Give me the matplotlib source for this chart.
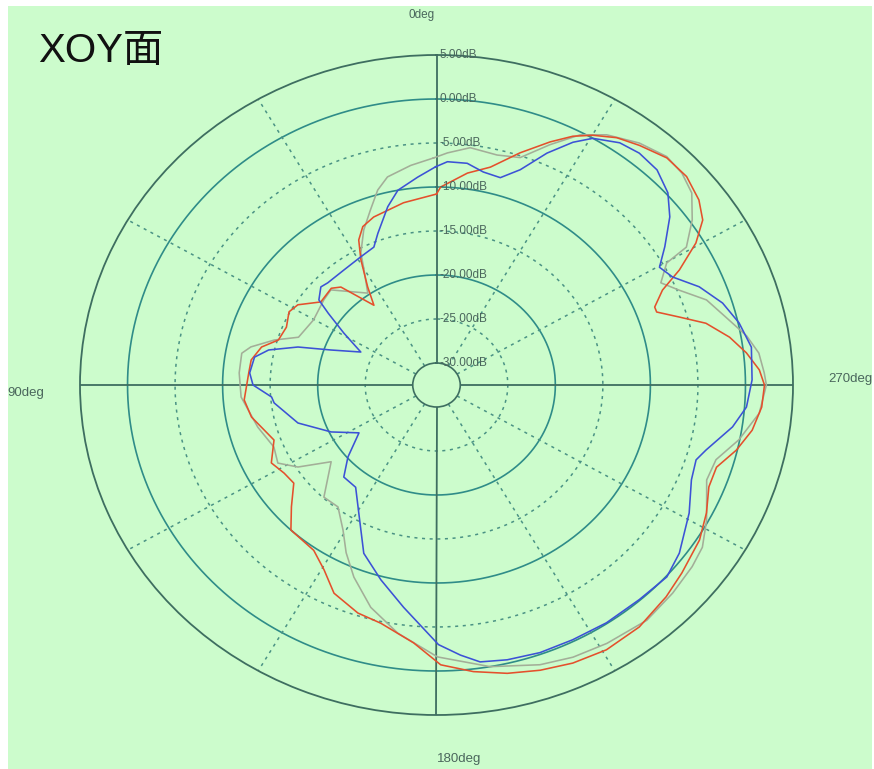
import numpy as np
from matplotlib import pyplot as plt
from matplotlib.patches import Rectangle

# radiation pattern, XOY plane: angle in degrees (ccw from top) and gain in dB
red_deg = [0, 9.5, 19.1, 23.3, 26.4, 29.2, 33.0, 36.0, 42.1, 45.2, 52.2, 58.0, 61.8, 67.4, 72.9,
           76.8, 81.7, 86.1, 94.8, 100.6, 110.1, 117.0, 122.0, 126.6, 132.2, 137.1, 145.5, 150.6,
           155.5, 162.3, 167.8, 175.3, 180.8, 186.8, 192.8, 198.6, 204.4, 210.7, 217.8, 225.1,
           230.4, 237.5, 242.9, 248.0, 252.4, 256.8, 261.2, 265.8, 270.0, 272.9, 276.4, 280.0,
           283.9, 286.8, 289.7, 291.1, 294.4, 297.1, 300.6, 303.8, 307.3, 312.0, 316.8, 321.9,
           326.0, 329.9, 333.1, 336.6, 341.6, 347.1, 352.3, 358.9]
red_db = [-10.8, -11.5, -12.3, -12.9, -14.1, -16.2, -19.2, -21.3, -17.5, -16.9, -17.1, -15.3, -14.9,
          -15.4, -15.1, -13.6, -12.8, -12.7, -12.2, -12.7, -14.3, -13.0, -13.6, -13.8, -11.9, -10.0,
          -9.7, -8.4, -6.5, -5.3, -4.8, -3.1, -0.7, 0.3, 1.1, 1.7, 2.2, 2.5, 2.3, 1.6, 1.0, 0.3,
          -0.6, -1.6, -1.6, -0.1, 1.1, 1.8, 2.0, 1.5, 0.3, -1.2, -3.3, -5.8, -7.9, -7.9, -6.4,
          -3.8, -0.8, 1.2, 2.2, 2.9, 2.9, 2.1, 1.4, 0.3, -0.8, -2.4, -4.7, -7.1, -8.2, -10.0]

gray_deg = [0.7, 6.2, 12.3, 15.6, 19.2, 23.5, 27.9, 30.3, 34.7, 45.8, 50.8, 60.2, 69.5, 73.3, 77.5,
            80.0, 86.2, 93.8, 104.3, 112.4, 118.0, 122.6, 128.2, 137.1, 143.2, 149.2, 153.5, 158.3,
            164.7, 171.8, 180.2, 190.0, 198.9, 204.9, 211.4, 219.6, 226.4, 232.5, 236.6, 241.6,
            249.2, 253.9, 258.9, 264.6, 270.0, 272.3, 276.1, 279.7, 284.2, 288.8, 292.9, 296.2,
            299.8, 300.8, 304.9, 309.1, 313.0, 317.0, 322.2, 327.8, 332.0, 336.4, 341.2, 346.3,
            352.5, 357.5]
gray_db = [-6.7, -7.4, -8.3, -9.5, -11.4, -13.3, -15.5, -17.4, -19.8, -17.0, -17.2, -17.6, -17.0,
           -14.7, -12.5, -11.7, -11.7, -11.9, -13.1, -14.0, -13.6, -15.2, -18.4, -15.1, -15.2, -13.3,
           -11.2, -9.0, -6.3, -4.0, -1.6, 0.0, 1.1, 1.6, 1.9, 2.2, 1.8, 1.4, 1.0, -0.2, -2.1, -1.9,
           -0.1, 1.6, 2.2, 2.0, 1.6, 0.6, -1.1, -2.5, -4.8, -6.2, -4.6, -1.9, 0.3, 2.1, 2.8, 3.0,
           2.3, 1.1, -0.3, -2.7, -5.2, -5.6, -5.3, -6.1]

blue_deg = [0.2, 4.8, 10.4, 14.2, 19.7, 22.8, 28.7, 36.7, 44.6, 47.5, 52.0, 54.4, 58.8, 64.8, 70.3,
            73.5, 77.3, 80.6, 86.0, 90.0, 94.5, 96.8, 106.5, 115.7, 123.7, 131.3, 137.0, 143.8,
            150.7, 158.2, 165.2, 172.2, 180.4, 184.7, 188.3, 193.4, 199.7, 206.3, 213.5, 221.2,
            228.0, 233.2, 241.3, 248.1, 252.7, 255.4, 261.3, 265.6, 271.0, 277.4, 282.5, 287.2,
            292.0, 296.3, 299.7, 303.2, 307.9, 311.9, 316.5, 321.0, 325.0, 329.6, 332.5, 336.2,
            340.2, 344.1, 348.5, 352.7, 357.4]
blue_db = [-7.7, -8.8, -10.0, -11.6, -14.2, -15.5, -15.9, -16.2, -16.2, -16.0, -16.8, -18.5, -21.1,
           -23.7, -20.7, -17.3, -14.4, -13.1, -12.8, -13.2, -15.1, -15.3, -17.3, -20.2, -22.7, -20.1,
           -18.2, -18.1, -15.8, -11.9, -9.6, -7.0, -3.0, -1.7, -0.7, -0.4, -0.2, -0.2, -0.1, -0.1,
           0.1, -0.6, -2.2, -3.6, -3.9, -3.2, -1.0, 0.2, 0.7, 0.9, 0.1, -1.0, -2.7, -4.8, -5.5,
           -3.8, -1.4, 0.2, 1.2, 1.4, 1.1, 0.0, -1.4, -3.7, -6.5, -8.0, -7.8, -7.1, -7.1]

ring_levels = [-25, -20, -15, -10, -5, 0]
label_levels = [5, 0, -5, -10, -15, -20, -25, -30]
angle_labels = ["0deg", "90deg", "180deg", "270deg"]

BG = "#ccfccc"
DARK = "#3e6e60"
TEAL = "#2f8c88"
DOT = "#4a9284"
TXT = "#4a665c"

W, H = 874, 769
fig = plt.figure(figsize=(W / 100, H / 100), dpi=100)
fig.patch.set_facecolor("white")
fig.patches.append(Rectangle((8 / W, 0), 864 / W, 763 / H, transform=fig.transFigure,
                             facecolor=BG, edgecolor="none", zorder=-5))

# polar axes stretched a bit wider than tall, like the original screenshot
ax = fig.add_axes([80 / W, 54 / H, 713 / W, 660 / H], projection="polar")
ax.set_aspect("auto")
ax.set_theta_zero_location("N")
ax.set_theta_direction(1)
ax.set_ylim(-30, 5)
ax.set_rorigin(-32.5)
ax.set_facecolor(BG)
ax.grid(False)
ax.set_xticks([])
ax.set_yticks([])
ax.spines["polar"].set_color(DARK)
ax.spines["polar"].set_linewidth(1.3)
ax.spines["inner"].set_color(DARK)
ax.spines["inner"].set_linewidth(1.2)

full = np.linspace(0, 2 * np.pi, 721)
for lev in ring_levels:
    if lev % 10 == 0:
        ax.plot(full, np.full_like(full, lev), color=TEAL, lw=1.2, zorder=1)
    else:
        ax.plot(full, np.full_like(full, lev), color=DOT, lw=1.1, ls=(0, (2, 3)), zorder=1)

for a in range(0, 360, 30):
    t = np.deg2rad(a)
    if a % 90 == 0:
        ax.plot([t, t], [-30, 5], color=DARK, lw=1.3, zorder=1)
    else:
        ax.plot([t, t], [-30, 5], color=DOT, lw=1.1, ls=(0, (2, 3)), zorder=1)

# the three traces
for deg, db, col in [(gray_deg, gray_db, "#a3ae98"),
                     (red_deg, red_db, "#e4502c"),
                     (blue_deg, blue_db, "#3c52d6")]:
    th = np.deg2rad(deg + [deg[0] + 360])
    ax.plot(th, db + [db[0]], color=col, lw=1.15, zorder=3)

for v in label_levels:
    ax.annotate(f"{v:.2f}dB", xy=(0, v), xytext=(2.5, 0), textcoords="offset points",
                ha="left", va="center", fontsize=8.5, color=TXT,
                family="Liberation Sans", zorder=4)

# angle captions around the chart
pos = [(422, 15, "center", 8.5), (7, 393, "left", 9.5),
       (437, 759, "left", 9.5), (828, 379, "left", 9.5)]
for (x, y, ha, fs), s in zip(pos, angle_labels):
    fig.text(x / W, 1 - y / H, s, ha=ha, va="center", fontsize=fs, color=TXT,
             family="Liberation Sans")

fig.text(38 / W, 1 - 62 / H, "XOY面", fontsize=29, va="baseline", color="#111111",
         family=["Liberation Sans", "Noto Sans CJK SC"])

fig.savefig("out.png", dpi=100, facecolor=fig.get_facecolor())
